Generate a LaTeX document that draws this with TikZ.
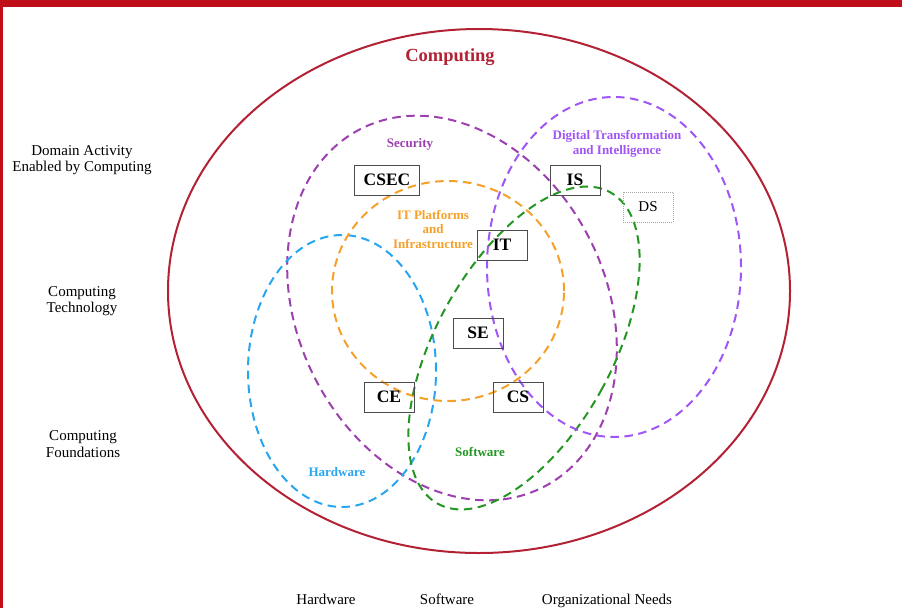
\documentclass[tikz,border=0pt]{standalone}
\usepackage{fontspec}
\setmainfont{Liberation Serif}
\definecolor{barred}{RGB}{192,14,24}
\definecolor{compred}{RGB}{178,34,52}
\definecolor{secpurple}{RGB}{156,63,175}
\definecolor{dtviolet}{RGB}{160,85,245}
\definecolor{itorange}{RGB}{245,160,40}
\definecolor{hwblue}{RGB}{40,165,240}
\definecolor{swgreen}{RGB}{35,150,35}

\begin{document}
\begin{tikzpicture}[x=1pt,y=1pt]
\tikzstyle{every node}+=[inner sep=0pt]
\tikzstyle{field}=[line width=2pt, dash pattern=on 8.5pt off 5.5pt]
\tikzstyle{discbox}=[draw=black!70, line width=1pt, minimum width=50pt, minimum height=30pt, inner xsep=9pt, font=\fontsize{17.5}{20}\selectfont\bfseries]
\tikzstyle{areatext}=[align=center, font=\fontsize{13}{14.5}\selectfont\bfseries]
\tikzstyle{axistext}=[align=center, font=\fontsize{15}{16.5}\selectfont]
\useasboundingbox (0,0) rectangle (902,-608);
\fill [barred] (0,0) rectangle (902,-7);
\fill [barred] (0,0) rectangle (3,-608);
% outer field
\draw [compred, line width=2pt] (479,-291) ellipse (311 and 262);
\node [text=compred, font=\fontsize{18.5}{20}\selectfont\bfseries] (title) at (450,-57) {Computing};
% dashed areas
\draw [field, secpurple, rotate around={27:(452,-308)}] (452,-308) ellipse (154 and 201);
\draw [field, hwblue] (342,-371) ellipse (94 and 136);
\draw [field, itorange] (448,-291) ellipse (116 and 110);
\draw [field, swgreen, rotate around={-29:(524,-348)}] (524,-348) ellipse (88 and 178);
\draw [field, dtviolet] (614,-267) ellipse (127 and 170);
\node [areatext, text=secpurple] (seclbl) at (410,-144) {Security};
\node [areatext, text=dtviolet] (dtlbl) at (617,-144) {Digital Transformation\\and Intelligence};
\node [areatext, text=itorange] (itlbl) at (433,-229) {IT Platforms\\and\\Infrastructure};
\node [areatext, text=swgreen] (swlbl) at (480,-452) {Software};
\node [areatext, text=hwblue] (hwlbl) at (337,-472) {Hardware};
% disciplines
\node [discbox] (csec) at (387,-180) {CSEC};
\node [discbox] (is) at (575,-180) {IS};
\node [discbox] (it) at (502,-245) {IT};
\node [discbox] (se) at (478,-333) {SE};
\node [discbox] (ce) at (389,-397) {CE};
\node [discbox] (cs) at (518,-397) {CS};
\node [discbox, draw=gray!70, densely dotted, line width=0.8pt, font=\fontsize{15}{17}\selectfont] (ds) at (648,-207) {DS};
% axes
\node [axistext] (domain) at (82,-160) {Domain Activity\\Enabled by Computing};
\node [axistext] (tech) at (82,-301) {Computing\\Technology};
\node [axistext] (found) at (83,-444) {Computing\\Foundations};
\node [axistext, anchor=base] (hwaxis) at (326,-604) {Hardware};
\node [axistext, anchor=base] (swaxis) at (447,-604) {Software};
\node [axistext, anchor=base] (orgaxis) at (607,-604) {Organizational Needs};
\end{tikzpicture}
\end{document}
